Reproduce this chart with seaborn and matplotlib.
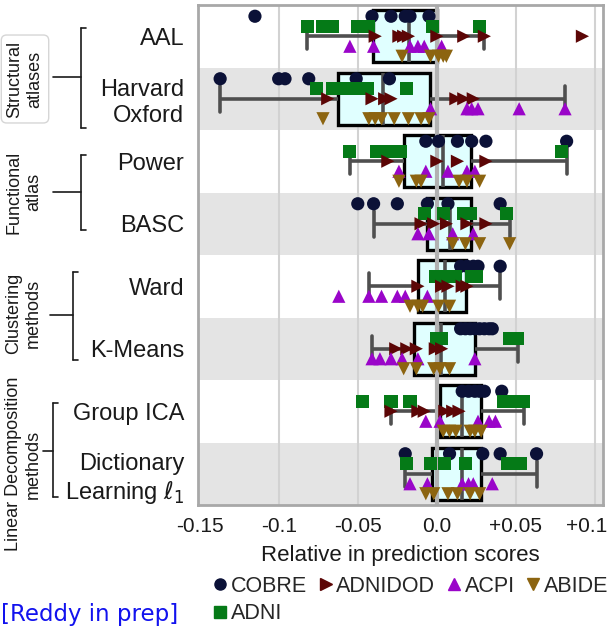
import matplotlib
matplotlib.use("Agg")
import matplotlib.pyplot as plt
import matplotlib.transforms as mtransforms
import pandas as pd
import seaborn as sns
from matplotlib.lines import Line2D

# Parcellation methods (rows, top to bottom)
categories = ["AAL", "Harvard\nOxford", "Power", "BASC", "Ward", "K-Means",
              "Group ICA", "Dictionary\nLearning $\\ell_1$"]

# Datasets, in dodge order within each row
datasets = ["COBRE", "ADNI", "ADNIDOD", "ACPI", "ABIDE"]
dataset_markers = ["o", "s", ">", "^", "v"]
dataset_colors = ["#0b1137", "#057a17", "#5c0606", "#9a05c9", "#8c6410"]

# Relative change in prediction score, one list per method
cobre = [
    [-0.115, -0.041, -0.029, -0.020, -0.017, -0.005],
    [-0.137, -0.100, -0.096, -0.081, -0.051, -0.030],
    [-0.007, 0.001, 0.013, 0.022, 0.031, 0.082],
    [-0.050, -0.040, -0.025, -0.006, 0.007, 0.040],
    [0.015, 0.019, 0.023, 0.026, 0.040],
    [0.015, 0.018, 0.021, 0.024, 0.027, 0.030, 0.033, 0.035],
    [0.016, 0.020, 0.024, 0.027, 0.030, 0.041],
    [-0.020, 0.008, 0.029, 0.040, 0.063],
]
adni = [
    [-0.082, -0.072, -0.066, -0.050, -0.043, -0.003, 0.027],
    [-0.076, -0.066, -0.064, -0.058, -0.050, -0.044, -0.019],
    [-0.055, -0.038, -0.030, -0.023, 0.079],
    [-0.008, 0.004, 0.017, 0.021, 0.044],
    [-0.001, 0.007, 0.012, 0.022, 0.025],
    [0.000, 0.003, 0.046, 0.051],
    [-0.047, -0.029, -0.017, 0.042, 0.049, 0.055],
    [-0.019, -0.004, 0.005, 0.018, 0.045, 0.053],
]
adnidod = [
    [-0.039, -0.024, -0.021, -0.018, 0.000, 0.017, 0.030, 0.092],
    [-0.069, -0.041, -0.033, -0.029, 0.012, 0.017, 0.023],
    [-0.031, 0.000, 0.013, 0.031],
    [-0.010, -0.002, 0.006, 0.019, 0.031],
    [-0.012, 0.003, 0.007, 0.016, 0.019],
    [-0.026, -0.019, -0.013, -0.001, 0.003],
    [-0.029, -0.012, -0.008, 0.005, 0.010, 0.014],
    [],
]
acpi = [
    [-0.055, -0.040, -0.017, -0.012, -0.008, 0.003],
    [-0.004, 0.019, 0.022, 0.026, 0.052, 0.081],
    [-0.024, -0.007, 0.007, 0.019, 0.024],
    [-0.012, -0.005, 0.010, 0.023],
    [-0.062, -0.043, -0.035, -0.025, -0.020, -0.006],
    [-0.041, -0.036, -0.029, -0.022, -0.012, 0.024],
    [-0.007, 0.002, 0.026, 0.033, 0.037],
    [-0.017, -0.006, 0.016, 0.020, 0.023, 0.035],
]
abide = [
    [-0.022, -0.004, 0.001, 0.004, 0.006],
    [-0.072, -0.043, -0.039, -0.035, -0.027, -0.018, -0.010, -0.005],
    [-0.024, -0.013, -0.010, 0.014, 0.019, 0.027],
    [0.010, 0.018, 0.027, 0.046],
    [-0.017, -0.012, -0.009, 0.001, 0.008],
    [-0.021, -0.013, -0.002, 0.002, 0.008],
    [0.004, 0.008, 0.012, 0.021, 0.024, 0.028],
    [-0.007, -0.002, 0.007, 0.013, 0.021, 0.027],
]

xticks = [-0.15, -0.1, -0.05, 0.0, 0.05, 0.1]
xtick_labels = ["-0.15", "-0.1", "-0.05", "0.0", "+0.05", "+0.1"]

rows = []
for name, per_method in zip(datasets, [cobre, adni, adnidod, acpi, abide]):
    for method, values in zip(categories, per_method):
        for v in values:
            rows.append((method, name, v))
df = pd.DataFrame(rows, columns=["method", "dataset", "score"])

sns.set_theme(style="white")
plt.rcParams["font.family"] = ["Liberation Sans", "DejaVu Sans"]

W, H = 615, 627
fig = plt.figure(figsize=(W / 100, H / 100), dpi=100)
ax = fig.add_axes([198 / W, 1 - 505 / H, 405 / W, 500 / H])


def fx(px):
    return px / W


def fy(py):
    return 1 - py / H


# alternating row bands and vertical guides
for i in range(1, len(categories), 2):
    ax.axhspan(i - 0.5, i + 0.5, color="#e4e4e4", lw=0, zorder=0)
for x in [-0.1, -0.05, 0.05, 0.1]:
    ax.axvline(x, color="#d2d2d2", lw=1.5, zorder=0.5)

grey = "#4f4f4f"
sns.boxplot(data=df, x="score", y="method", order=categories, orient="h",
            width=0.83, showfliers=False, whis=1.5, ax=ax,
            boxprops=dict(facecolor="#e0ffff", edgecolor="black", linewidth=2.4),
            whiskerprops=dict(color=grey, linewidth=2.6),
            capprops=dict(color=grey, linewidth=2.6),
            medianprops=dict(color=grey, linewidth=2.6))

ax.axvline(0, color="#b2b2b2", lw=3, zorder=2.5)

palette = dict(zip(datasets, dataset_colors))
for name, m in zip(datasets, dataset_markers):
    sub = df[df["dataset"] == name]
    sns.stripplot(data=sub, x="score", y="method", order=categories,
                  hue="dataset", hue_order=datasets, palette=palette,
                  dodge=True, jitter=False, marker=m, size=9.5, linewidth=0,
                  legend=False, ax=ax, zorder=3)

ax.set_xlim(-0.151, 0.105)
ax.set_ylim(len(categories) - 0.5, -0.5)
ax.set_xticks(xticks)
ax.set_xticklabels(xtick_labels, fontsize=15, color="#1a1a1a")
ax.set_yticks(range(len(categories)))
ax.set_yticklabels(categories, fontsize=17, color="#1a1a1a")
ax.tick_params(axis="both", length=0)
ax.tick_params(axis="y", pad=10)
ax.tick_params(axis="x", pad=9)
# keep the last tick label inside the figure edge
last = ax.get_xticklabels()[-1]
last.set_transform(last.get_transform() +
                   mtransforms.ScaledTranslation(-6 / 72, 0, fig.dpi_scale_trans))
ax.set_ylabel("")
ax.set_xlabel("Relative in prediction scores", fontsize=16, color="#1a1a1a",
              labelpad=6)
for s in ax.spines.values():
    s.set_color("#a8a8a8")
    s.set_linewidth(2)

# method-family labels with brackets
groups = [
    ("Structural\natlases", 25, 79, 81, 28, 128, 53, 77, True),
    ("Functional\natlas", 24, 192, 81, 155, 230, 53, 192, False),
    ("Clustering\nmethods", 23, 313, 73, 272, 360, 50, 315, False),
    ("Linear Decomposition\nmethods", 23, 464, 53, 403, 497, 43, 451, False),
]
for text, tx, ty, bx, y0, y1, hx, hy, boxed in groups:
    kw = {}
    if boxed:
        kw["bbox"] = dict(boxstyle="round,pad=0.3", fc="white", ec="#d6d6d6", lw=1)
    fig.text(fx(tx), fy(ty), text, rotation=90, ha="center", va="center",
             multialignment="center", fontsize=13, color="#1a1a1a", **kw)
    lk = dict(color="#1a1a1a", lw=1.2, transform=fig.transFigure)
    fig.add_artist(Line2D([fx(bx), fx(bx)], [fy(y0), fy(y1)], **lk))
    fig.add_artist(Line2D([fx(bx), fx(bx + 5)], [fy(y0), fy(y0)], **lk))
    fig.add_artist(Line2D([fx(bx), fx(bx + 5)], [fy(y1), fy(y1)], **lk))
    fig.add_artist(Line2D([fx(hx), fx(bx)], [fy(hy), fy(hy)], **lk))

handles = [Line2D([], [], ls="", marker=m, color=c, markersize=8)
           for m, c in zip(dataset_markers, dataset_colors)]
fig.legend(handles, datasets, ncol=4, loc="upper left",
           bbox_to_anchor=(fx(214), fy(576)), frameon=False, fontsize=15.5,
           handlelength=0.6, handletextpad=0.2, columnspacing=0.55,
           labelspacing=0.3, borderpad=0, borderaxespad=0)

fig.text(fx(1), fy(621), "[Reddy in prep]", ha="left", va="baseline",
         color="#1212ee", fontsize=16.5, family="DejaVu Sans")

fig.savefig("out.png", dpi=100)
